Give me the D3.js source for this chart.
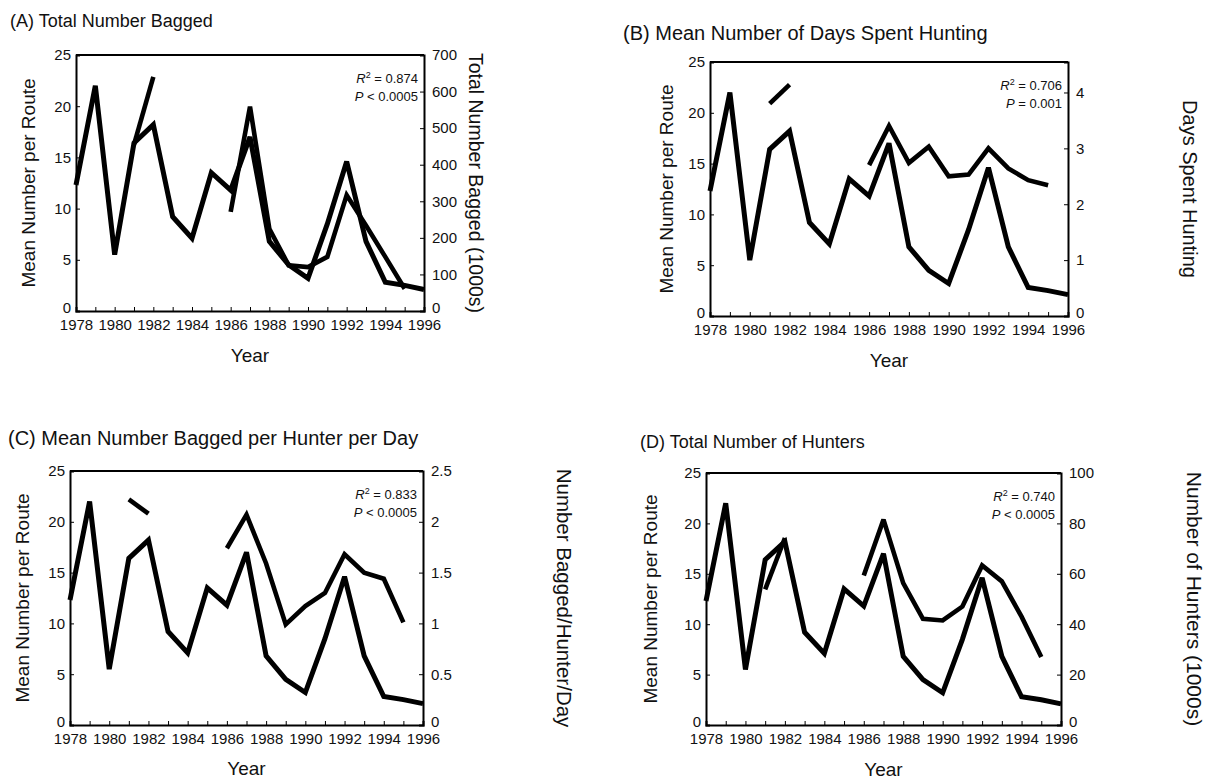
<!DOCTYPE html>
<html>
<head>
<meta charset="utf-8">
<script src="https://cdn.jsdelivr.net/npm/d3@7"></script>
<style>
  html, body { margin: 0; padding: 0; background: #fff; overflow: hidden; }
  svg { display: block; font-family: "Liberation Sans", Arial, Helvetica, sans-serif; }
</style>
</head>
<body>
<svg id="chart" width="1206" height="781"></svg>
<script>
// ---------- data ----------
const years = [1978, 1979, 1980, 1981, 1982, 1983, 1984, 1985, 1986, 1987, 1988, 1989, 1990, 1991, 1992, 1993, 1994, 1995, 1996];
const meanPerRoute = [12.3, 22.0, 5.5, 16.4, 18.2, 9.2, 7.1, 13.5, 11.8, 17.0, 6.8, 4.5, 3.2, 8.5, 14.6, 6.8, 2.8, 2.5, 2.1];

const segYearsEarly = [1981, 1982];
const segYearsLate = [1986, 1987, 1988, 1989, 1990, 1991, 1992, 1993, 1994, 1995];

const baggedEarly = [455, 640];
const baggedLate = [271, 559, 225, 125, 120, 148, 317, 234, 148, 61];

const daysEarly = [3.80, 4.14];
const daysLate = [2.70, 3.40, 2.74, 3.03, 2.50, 2.53, 3.00, 2.64, 2.43, 2.34];

const rateEarly = [2.22, 2.08];
const rateLate = [1.74, 2.07, 1.59, 0.99, 1.17, 1.30, 1.68, 1.50, 1.44, 1.01];

const huntersEarly = [53.8, 74.2];
const huntersLate = [59.3, 81.5, 56.3, 42.1, 41.5, 47.0, 63.3, 57.0, 43.0, 27.0];

const leftTicks = [0, 5, 10, 15, 20, 25];
const rightTicksA = [0, 100, 200, 300, 400, 500, 600, 700];
const rightTicksB = [0, 1, 2, 3, 4];
const rightTicksC = [0, 0.5, 1, 1.5, 2, 2.5];
const rightTicksD = [0, 20, 40, 60, 80, 100];

const panelTitles = ["(A)  Total Number Bagged", "(B)  Mean Number of Days Spent Hunting",
                     "(C) Mean Number Bagged per Hunter per Day", "(D) Total Number of Hunters"];
const rightTitles = ["Total Number Bagged (1000s)", "Days Spent Hunting", "Number Bagged/Hunter/Day", "Number of Hunters (1000s)"];
const r2Labels = ["0.874", "0.706", "0.833", "0.740"];
const pLabels = ["< 0.0005", "= 0.001", "< 0.0005", "< 0.0005"];

// ---------- layout ----------
const panels = [
  { box: {l: 76, r: 424, t: 55, b: 311}, title: {x: 10, y: 27, size: 18}, rightMax: 700, rightTicks: rightTicksA,
    early: baggedEarly, late: baggedLate, leftTitleX: 28, rightTitleX: 476, rightTitleSize: 19.5, yearY: 362 },
  { box: {l: 710, r: 1068, t: 62, b: 316}, title: {x: 623, y: 40, size: 20}, rightMax: 25 / 5.5, rightTicks: rightTicksB,
    early: daysEarly, late: daysLate, leftTitleX: 666, rightTitleX: 1190, rightTitleSize: 20, yearY: 367 },
  { box: {l: 70, r: 423, t: 471, b: 725}, title: {x: 8, y: 445, size: 20}, rightMax: 2.5, rightTicks: rightTicksC,
    early: rateEarly, late: rateLate, leftTitleX: 22, rightTitleX: 564, rightTitleSize: 20.5, yearY: 775 },
  { box: {l: 706, r: 1061, t: 473, b: 725}, title: {x: 640, y: 448, size: 18}, rightMax: 100, rightTicks: rightTicksD,
    early: huntersEarly, late: huntersLate, leftTitleX: 650, rightTitleX: 1194, rightTitleSize: 21, yearY: 776 }
];

const svg = d3.select("#chart");

panels.forEach((p, i) => {
  const {l, r, t, b} = p.box;
  const x = d3.scaleLinear().domain([years[0], years[years.length - 1]]).range([l, r]);
  const yL = d3.scaleLinear().domain([0, 25]).range([b, t]);
  const yR = d3.scaleLinear().domain([0, p.rightMax]).range([b, t]);

  // title
  svg.append("text").attr("x", p.title.x).attr("y", p.title.y)
    .attr("font-size", p.title.size).attr("fill", "#111").text(panelTitles[i]);

  // data lines
  const meanLine = d3.line().x((d, k) => x(years[k])).y(d => yL(d));
  svg.append("path").datum(meanPerRoute).attr("d", meanLine)
    .attr("fill", "none").attr("stroke", "#000").attr("stroke-width", 5).attr("stroke-linejoin", "miter").attr("stroke-miterlimit", 3);

  const early = d3.line().x((d, k) => x(segYearsEarly[k])).y(d => yR(d));
  const late = d3.line().x((d, k) => x(segYearsLate[k])).y(d => yR(d));
  svg.append("path").datum(p.early).attr("d", early)
    .attr("fill", "none").attr("stroke", "#000").attr("stroke-width", 4.6);
  svg.append("path").datum(p.late).attr("d", late)
    .attr("fill", "none").attr("stroke", "#000").attr("stroke-width", 4.6).attr("stroke-linejoin", "miter").attr("stroke-miterlimit", 3);

  // axes
  const gx = svg.append("g").attr("transform", `translate(0,${b})`)
    .call(d3.axisBottom(x).tickValues(years).tickSize(-4).tickPadding(8)
      .tickFormat(d => (d % 2 === 0 ? String(d) : "")));
  const gl = svg.append("g").attr("transform", `translate(${l},0)`)
    .call(d3.axisLeft(yL).tickValues(leftTicks).tickSize(-4).tickPadding(5).tickFormat(d => String(d)));
  const gr = svg.append("g").attr("transform", `translate(${r},0)`)
    .call(d3.axisRight(yR).tickValues(p.rightTicks).tickSize(-4).tickPadding(8).tickFormat(d => String(d)));
  [gx, gl, gr].forEach(g => {
    g.selectAll(".domain").attr("stroke", "#000").attr("stroke-width", 2);
    g.selectAll(".tick line").attr("stroke", "#000").attr("stroke-width", 1);
    g.selectAll("text").attr("font-size", 15).attr("fill", "#111")
      .attr("font-family", "'Liberation Sans', Arial, sans-serif");
  });
  // nudge the zero labels on the vertical axes up a little so they clear the year labels
  [gl, gr].forEach(g => g.selectAll(".tick text").filter(d => d === 0).attr("dy", "0.1em"));
  // top frame
  svg.append("line").attr("x1", l).attr("x2", r).attr("y1", t).attr("y2", t)
    .attr("stroke", "#000").attr("stroke-width", 2);

  // axis titles
  svg.append("text").attr("x", (l + r) / 2).attr("y", p.yearY).attr("text-anchor", "middle")
    .attr("font-size", 19).attr("fill", "#111").text("Year");
  svg.append("text").attr("transform", `translate(${p.leftTitleX},${(t + b) / 2}) rotate(-90)`)
    .attr("text-anchor", "middle").attr("dy", "0.35em").attr("font-size", 19).attr("fill", "#111").text("Mean Number per Route");
  svg.append("text").attr("transform", `translate(${p.rightTitleX},${(t + b) / 2}) rotate(90)`)
    .attr("text-anchor", "middle").attr("dy", "0.35em").attr("font-size", p.rightTitleSize).attr("fill", "#111").text(rightTitles[i]);

  // statistics annotation
  const ann = svg.append("g").attr("font-size", 13).attr("fill", "#111");
  const t1 = ann.append("text").attr("x", r - 6).attr("y", t + 28).attr("text-anchor", "end");
  t1.append("tspan").attr("font-style", "italic").text("R");
  t1.append("tspan").attr("font-size", 9).attr("dy", -5).text("2");
  t1.append("tspan").attr("dy", 5).text(" = " + r2Labels[i]);
  const t2 = ann.append("text").attr("x", r - 6).attr("y", t + 46).attr("text-anchor", "end");
  t2.append("tspan").attr("font-style", "italic").text("P");
  t2.append("tspan").text(" " + pLabels[i]);
});
</script>
</body>
</html>
